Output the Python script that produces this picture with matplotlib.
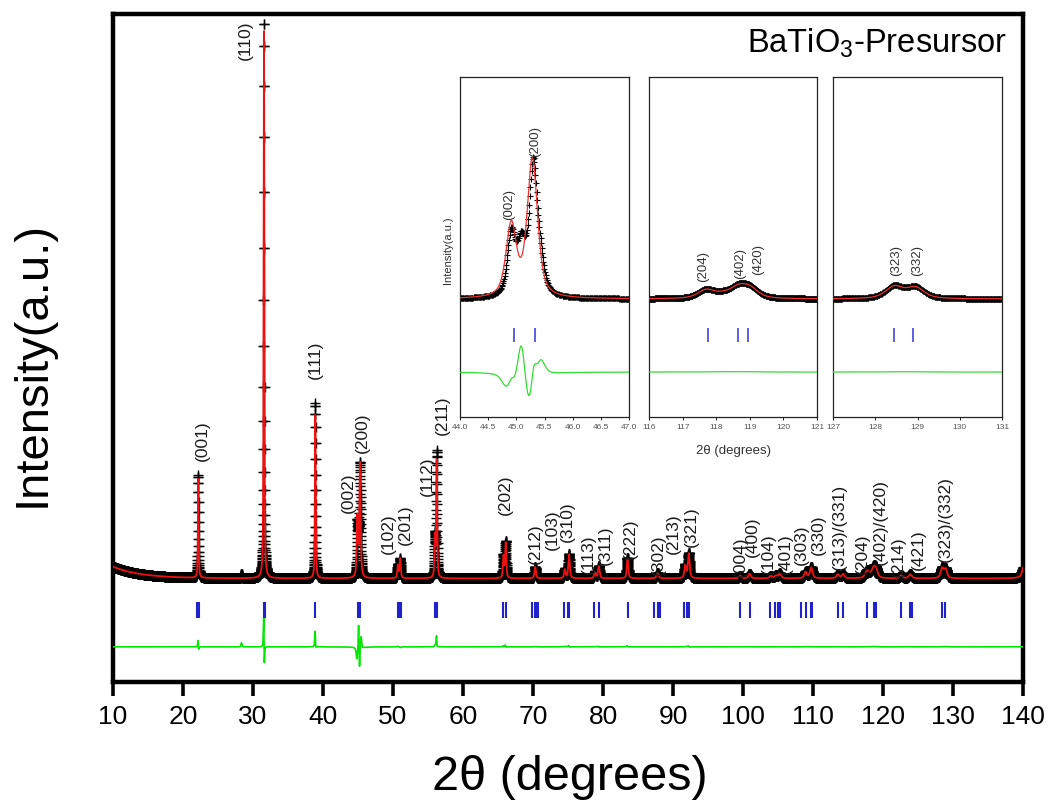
import numpy as np
import matplotlib
matplotlib.use("Agg")
import matplotlib.pyplot as plt

plt.rcParams['font.family'] = ['Liberation Sans', 'DejaVu Sans']
plt.rcParams['mathtext.fontset'] = 'custom'
plt.rcParams['mathtext.rm'] = 'Liberation Sans'
plt.rcParams['mathtext.it'] = 'Liberation Sans:italic'
plt.rcParams['mathtext.bf'] = 'Liberation Sans:bold'

# ------------------------------------------------------------------ data
step = 0.01
two_theta = np.arange(10.0, 140.0 + step / 2, step)

# background (counts): flat level plus low-angle scatter
bg_level = 600.0
bg_low_amp = 200.0
bg_low_decay = 4.0

# observed reflections: position (deg), height above background, FWHM (deg)
obs_pos = [22.18, 28.35, 31.565, 38.90, 44.91, 45.09, 45.30, 45.43,
           50.70, 51.03, 55.98, 56.24, 65.78, 66.10, 70.32, 74.55, 75.15,
           78.85, 79.40, 83.50, 87.80, 91.75, 92.25, 99.60, 100.95,
           104.00, 104.70, 105.25, 108.95, 109.75, 113.55, 114.30,
           117.70, 118.20, 118.65, 119.00, 122.60, 123.90,
           128.45, 128.95, 140.30]
obs_height = [1750, 70, 9520, 3000, 875, 675, 1820, 350,
              230, 330, 700, 2150, 380, 620, 200, 160, 420,
              110, 210, 350, 90, 220, 430, 45, 80,
              40, 45, 80, 110, 190, 70, 75,
              120, 45, 140, 135, 50, 70,
              172, 157, 320]
obs_fwhm = [0.13, 0.15, 0.13, 0.14, 0.17, 0.17, 0.17, 0.17,
            0.20, 0.20, 0.17, 0.16, 0.20, 0.20, 0.25, 0.25, 0.25,
            0.28, 0.28, 0.26, 0.35, 0.30, 0.30, 0.40, 0.40,
            0.45, 0.45, 0.45, 0.45, 0.45, 0.45, 0.45,
            0.60, 0.60, 0.60, 0.60, 0.50, 0.50,
            0.50, 0.50, 0.70]

# calculated (refined) profile
calc_pos = [22.184, 31.569, 38.904, 44.91, 45.285,
            50.70, 51.03, 55.98, 56.244, 65.784, 66.104, 70.32, 74.55, 75.155,
            78.85, 79.405, 83.505, 87.80, 91.75, 92.255, 99.60, 100.95,
            104.00, 104.70, 105.25, 108.95, 109.75, 113.55, 114.30,
            117.70, 118.20, 118.65, 119.00, 122.60, 123.90,
            128.45, 128.95, 140.30]
calc_height = [1700, 9350, 2800, 1015, 1946,
               220, 340, 680, 2000, 370, 600, 195, 150, 405,
               105, 205, 335, 88, 215, 420, 44, 78,
               40, 44, 78, 106, 184, 68, 73,
               118, 42, 136, 132, 49, 68,
               168, 152, 315]
calc_fwhm = [0.13, 0.13, 0.14, 0.22, 0.22,
             0.20, 0.20, 0.17, 0.16, 0.20, 0.20, 0.25, 0.25, 0.25,
             0.28, 0.28, 0.26, 0.35, 0.30, 0.30, 0.40, 0.40,
             0.45, 0.45, 0.45, 0.45, 0.45, 0.45, 0.45,
             0.60, 0.60, 0.60, 0.60, 0.50, 0.50,
             0.50, 0.50, 0.70]

# Bragg reflection positions (tetragonal BaTiO3)
bragg_pos = [22.00, 22.25, 31.50, 31.65, 38.90, 44.95, 45.33, 50.65, 50.98,
             51.10, 55.95, 56.25, 65.75, 66.10, 69.90, 70.35, 70.60, 70.70,
             74.40, 75.05, 75.20, 78.75, 79.45, 83.50, 87.35, 87.80, 88.10,
             91.60, 92.00, 92.30, 99.50, 100.95, 103.90, 104.50, 105.00,
             105.25, 105.35, 108.35, 109.00, 109.75, 109.85, 113.55, 114.30,
             117.75, 118.65, 118.95, 122.55, 123.80, 124.10, 128.45, 128.90]

# reflection labels: text, anchor angle, anchor intensity
main_labels = ['(001)', '(110)', '(111)', '(002)', '(200)', '(102)', '(201)',
               '(112)', '(211)', '(202)', '(212)', '(103)', '(310)', '(113)',
               '(311)', '(222)', '(302)', '(213)', '(321)', '(004)', '(400)',
               '(104)', '(401)', '(303)', '(330)', '(313)/(331)', '(204)',
               '(402)/(420)', '(214)', '(421)', '(323)/(332)']
main_label_x = [22.7, 28.9, 38.9, 43.6, 45.6, 49.3, 51.7, 54.9, 57.0, 66.0,
                70.4, 72.7, 74.9, 77.9, 80.3, 83.9, 87.9, 90.0, 92.6, 99.6,
                101.4, 103.6, 106.0, 108.4, 110.7, 113.8, 117.1, 119.6,
                122.2, 125.0, 128.9]
main_label_y = [2620, 9470, 4030, 1740, 2760, 1025, 1195, 2030, 3065, 1705,
                855, 1110, 1230, 685, 840, 940, 670, 1025, 1145, 635,
                975, 685, 685, 840, 1010, 755, 685, 840,
                635, 755, 890]

inset_ranges = [(44.0, 47.0), (116.0, 121.0), (127.0, 131.0)]
inset_ticks = [[44.0, 44.5, 45.0, 45.5, 46.0, 46.5, 47.0],
               [116, 117, 118, 119, 120, 121],
               [127, 128, 129, 130, 131]]
inset_tick_fmt = ['{:.1f}', '{:d}', '{:d}']
inset_labels = [[('(002)', 44.87, 1730), ('(200)', 45.33, 2615)],
                [('(204)', 117.6, 855), ('(402)', 118.7, 895), ('(420)', 119.25, 950)],
                [('(323)', 128.49, 940), ('(332)', 128.99, 940)]]


# ------------------------------------------------------------------ profiles
def pseudo_voigt(x, center, fwhm, eta=0.6):
    dx = (x - center) / fwhm
    lor = 1.0 / (1.0 + 4.0 * dx ** 2)
    gau = np.exp(-4.0 * np.log(2.0) * dx ** 2)
    return eta * lor + (1.0 - eta) * gau


def pattern(x, pos, height, fwhm):
    y = bg_level + bg_low_amp * np.exp(-(x - 10.0) / bg_low_decay)
    for p, h, w in zip(pos, height, fwhm):
        y = y + h * pseudo_voigt(x, p, w)
    return y


y_obs = pattern(two_theta, obs_pos, obs_height, obs_fwhm)
y_calc = pattern(two_theta, calc_pos, calc_height, calc_fwhm)
y_diff = y_obs - y_calc

# ------------------------------------------------------------------ figure
W, H = 1051, 812
fig = plt.figure(figsize=(W / 100, H / 100), dpi=100)


def px_rect(x0, y0, x1, y1):
    return [x0 / W, 1 - y1 / H, (x1 - x0) / W, (y1 - y0) / H]


red = '#ee1111'
green = '#00e800'
blue = '#2222cc'

ax = fig.add_axes(px_rect(113, 15, 1023, 683))
ax.plot(two_theta, y_obs, ls='none', marker='+', ms=7, mew=1.0,
        color='black', zorder=2)
ax.plot(two_theta, y_calc, color=red, lw=1.3, zorder=3)
diff_offset_main = -570
ax.plot(two_theta, y_diff + diff_offset_main, color=green, lw=1.2, zorder=3)
ax.plot(bragg_pos, np.full(len(bragg_pos), 56.0), ls='none', marker='|',
        ms=11, mew=1.5, color=blue, zorder=3)

for txt, lx, ly in zip(main_labels, main_label_x, main_label_y):
    ax.text(lx, ly, txt, rotation=90, ha='center', va='bottom',
            fontsize=12.5, color='#1a1a1a', zorder=4)

ax.set_xlim(10, 140)
ax.set_ylim(-1170, 10240)
ax.set_xticks(np.arange(10, 141, 10))
ax.set_yticks([])
ax.tick_params(axis='x', direction='out', length=10, width=2.6,
               labelsize=19, pad=6)
for s in ax.spines.values():
    s.set_linewidth(3.2)

fig.text(33 / W, 1 - 364 / H, 'Intensity(a.u.)', rotation=90, ha='center',
         va='center', fontsize=34)
fig.text(570 / W, 1 - 778 / H, '2\u03b8 (degrees)', ha='center',
         va='center', fontsize=35)
fig.text(1007 / W, 1 - 53 / H, r'BaTiO$_3$-Presursor', ha='right',
         va='baseline', fontsize=23.5)

# ------------------------------------------------------------------ insets
inset_boxes = [(460, 78, 629, 418), (649, 78, 817, 418), (833, 78, 1002, 418)]
for k, (box, (lo, hi)) in enumerate(zip(inset_boxes, inset_ranges)):
    ia = fig.add_axes(px_rect(*box))
    m = (two_theta >= lo - 0.05) & (two_theta <= hi + 0.05)
    ia.plot(two_theta[m], y_obs[m], ls='none', marker='+', ms=4.5, mew=0.8,
            color='black', zorder=2)
    ia.plot(two_theta[m], y_calc[m], color='#f03030', lw=0.9, zorder=3)
    ia.plot(two_theta[m], y_diff[m] - 430, color='#33dd33', lw=0.9, zorder=3)
    bp = [b for b in bragg_pos if lo <= b <= hi]
    ia.plot(bp, np.full(len(bp), 92.0), ls='none', marker='|', ms=9.5,
            mew=1.2, color='#4444dd', zorder=3)
    for txt, lx, ly in inset_labels[k]:
        ia.text(lx, ly, txt, rotation=90, ha='center', va='bottom',
                fontsize=9.5, color='#333333')
    ia.set_xlim(lo, hi)
    ia.set_ylim(-1064, 3730)
    ia.set_yticks([])
    ia.set_xticks(inset_ticks[k])
    ia.set_xticklabels([inset_tick_fmt[k].format(t) for t in inset_ticks[k]])
    ia.tick_params(axis='x', direction='out', length=2, width=0.6,
                   labelsize=6, labelcolor='#555555', pad=2)
    for s in ia.spines.values():
        s.set_linewidth(0.9)
        s.set_color('#222222')

fig.text(448 / W, 1 - 250 / H, 'Intensity(a.u.)', rotation=90, ha='center',
         va='center', fontsize=8, color='#333333')
fig.text(733 / W, 1 - 451 / H, '2\u03b8 (degrees)', ha='center',
         va='center', fontsize=9.5, color='#333333')

fig.savefig('out.png', dpi=100)
